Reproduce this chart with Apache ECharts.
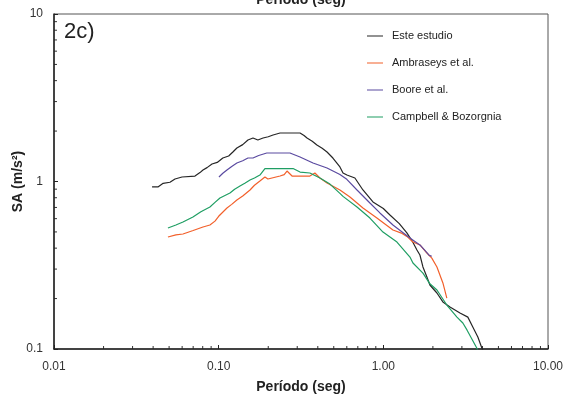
<!DOCTYPE html>
<html>
<head>
<meta charset="utf-8">
<script src="https://cdn.jsdelivr.net/npm/echarts@6/dist/echarts.min.js"></script>
<style>
  html, body { margin: 0; padding: 0; background: #fff; }
  #chart { width: 565px; height: 403px; }
</style>
</head>
<body>
<div id="chart"></div>
<script>
// Spectral acceleration SA (m/s²) versus period (s), log-log
const seriesNames = ['Este estudio', 'Ambraseys et al.', 'Boore et al.', 'Campbell & Bozorgnia'];
const seriesColors = ['#262626', '#f2602b', '#5a4aa0', '#1f9e63'];

const esteT  = [0.0394, 0.043, 0.046, 0.0506, 0.0543, 0.0599, 0.0718, 0.077, 0.0803, 0.085, 0.0911, 0.098, 0.106, 0.115, 0.122, 0.129, 0.140, 0.1506, 0.1616, 0.173, 0.186, 0.200, 0.214, 0.236, 0.312, 0.330, 0.344, 0.370, 0.395, 0.425, 0.455, 0.494, 0.545, 0.569, 0.601, 0.672, 0.752, 0.865, 1.00, 1.097, 1.25, 1.39, 1.50, 1.60, 1.668, 1.74, 1.839, 1.918, 2.116, 2.30, 2.54, 2.92, 3.26, 3.50, 3.75, 3.97, 4.03];
const esteSA = [0.93, 0.93, 0.975, 0.99, 1.035, 1.064, 1.078, 1.13, 1.171, 1.21, 1.272, 1.30, 1.381, 1.42, 1.50, 1.585, 1.66, 1.769, 1.818, 1.769, 1.818, 1.85, 1.895, 1.948, 1.948, 1.88, 1.818, 1.74, 1.652, 1.58, 1.50, 1.381, 1.221, 1.124, 1.093, 1.049, 0.89, 0.755, 0.69, 0.631, 0.56, 0.493, 0.44, 0.39, 0.364, 0.309, 0.269, 0.241, 0.216, 0.191, 0.178, 0.164, 0.155, 0.135, 0.118, 0.101, 0.098];

const ambT  = [0.0492, 0.055, 0.0607, 0.070, 0.0803, 0.0885, 0.095, 0.100, 0.1123, 0.120, 0.129, 0.140, 0.155, 0.165, 0.178, 0.191, 0.196, 0.199, 0.236, 0.250, 0.260, 0.279, 0.358, 0.384, 0.412, 0.455, 0.545, 0.627, 0.752, 0.914, 1.144, 1.30, 1.39, 1.513, 1.668, 1.839, 1.97, 2.116, 2.30, 2.43];
const ambSA = [0.466, 0.48, 0.486, 0.51, 0.535, 0.55, 0.58, 0.62, 0.695, 0.73, 0.775, 0.82, 0.89, 0.95, 1.007, 1.064, 1.064, 1.035, 1.078, 1.10, 1.155, 1.078, 1.078, 1.124, 1.049, 0.979, 0.89, 0.808, 0.695, 0.605, 0.513, 0.49, 0.47, 0.435, 0.418, 0.374, 0.349, 0.309, 0.248, 0.2015];

const booreT  = [0.1004, 0.106, 0.1123, 0.120, 0.129, 0.140, 0.1506, 0.1616, 0.175, 0.196, 0.271, 0.312, 0.374, 0.455, 0.545, 0.600, 0.692, 0.829, 0.953, 1.144, 1.451, 1.668, 1.80, 1.90, 1.97];
const booreSA = [1.064, 1.12, 1.171, 1.23, 1.289, 1.33, 1.381, 1.381, 1.43, 1.48, 1.48, 1.401, 1.289, 1.204, 1.10, 1.03, 0.89, 0.744, 0.649, 0.55, 0.46, 0.418, 0.385, 0.362, 0.358];

const campT  = [0.0492, 0.055, 0.0607, 0.0698, 0.078, 0.0885, 0.095, 0.1018, 0.1171, 0.125, 0.1347, 0.145, 0.155, 0.165, 0.178, 0.191, 0.283, 0.312, 0.358, 0.412, 0.474, 0.545, 0.569, 0.692, 0.829, 0.995, 1.21, 1.451, 1.513, 1.74, 1.918, 2.116, 2.43, 2.80, 3.04, 3.22, 3.70, 3.80];
const campSA = [0.528, 0.55, 0.573, 0.614, 0.66, 0.704, 0.75, 0.797, 0.854, 0.90, 0.94, 0.98, 1.02, 1.05, 1.093, 1.195, 1.195, 1.139, 1.124, 1.049, 0.965, 0.85, 0.815, 0.704, 0.605, 0.499, 0.435, 0.354, 0.326, 0.284, 0.245, 0.225, 0.183, 0.155, 0.143, 0.130, 0.101, 0.095];

const xTickValues = [0.01, 0.1, 1, 10];
const xTickLabels = ['0.01', '0.10', '1.00', '10.00'];
const yTickValues = [0.1, 1, 10];
const yTickLabels = ['0.1', '1', '10'];

const xTitle = 'Período (seg)';
const yTitle = 'SA (m/s²)';
const panelTag = '2c)';

const FONT = 'Arial, "Liberation Sans", sans-serif';

function pairs(t, v) { return t.map((x, i) => [x, v[i]]); }
function labelFor(values, labels, v) {
  let best = 0;
  values.forEach((tv, i) => {
    if (Math.abs(Math.log10(tv) - Math.log10(v)) < Math.abs(Math.log10(values[best]) - Math.log10(v))) best = i;
  });
  return labels[best];
}

const seriesData = [pairs(esteT, esteSA), pairs(ambT, ambSA), pairs(booreT, booreSA), pairs(campT, campSA)];

const chart = echarts.init(document.getElementById('chart'), null, { renderer: 'canvas' });

const option = {
  animation: false,
  backgroundColor: '#fff',
  grid: {
    left: 54, right: 17, top: 14, bottom: 54,
    outerBoundsMode: 'none', containLabel: false,
    show: true, borderColor: '#555', borderWidth: 1, backgroundColor: 'transparent'
  },
  legend: {
    orient: 'vertical',
    left: 362, top: 24,
    itemWidth: 20, itemHeight: 14, itemGap: 13,
    icon: 'path://M0,6.4 L16,6.4 L16,7.6 L0,7.6 Z M0,0 L0.01,0 L0.01,0.01 Z M20,14 L19.99,14 L19.99,13.99 Z',
    itemStyle: { borderWidth: 0 },
    textStyle: { fontFamily: FONT, fontSize: 11, color: '#222' },
    data: seriesNames
  },
  xAxis: {
    type: 'log', logBase: 10, min: 0.01, max: 10, splitNumber: 3,
    name: xTitle, nameLocation: 'middle', nameGap: 31,
    nameTextStyle: { fontFamily: FONT, fontSize: 14, fontWeight: 'bold', color: '#222' },
    axisLine: { lineStyle: { color: '#222', width: 1.5 } },
    axisTick: { inside: true, length: 4, lineStyle: { color: '#222' } },
    axisLabel: { fontFamily: FONT, fontSize: 12, color: '#333', margin: 12,
      formatter: v => labelFor(xTickValues, xTickLabels, v) },
    splitLine: { show: false }
  },
  yAxis: {
    type: 'log', logBase: 10, min: 0.1, max: 10, splitNumber: 2,
    name: yTitle, nameLocation: 'middle', nameGap: 29, nameMoveOverlap: false,
    nameTextStyle: { fontFamily: FONT, fontSize: 14, fontWeight: 'bold', color: '#222' },
    axisLine: { lineStyle: { color: '#222', width: 1.5 } },
    axisTick: { inside: true, length: 4, lineStyle: { color: '#222' } },
    axisLabel: { fontFamily: FONT, fontSize: 12, color: '#333', margin: 11,
      formatter: v => labelFor(yTickValues, yTickLabels, v) },
    splitLine: { show: false }
  },
  series: seriesNames.map((name, i) => ({
    name: name,
    type: 'line',
    data: seriesData[i],
    symbol: 'none',
    showSymbol: false,
    clip: true,
    lineStyle: { color: seriesColors[i], width: 1.2 },
    itemStyle: { color: seriesColors[i] }
  }))
};

chart.setOption(option);

// Minor ticks at 2..9 of every decade, placed through the axis scales
const graphics = [];
const x0 = chart.convertToPixel({ xAxisIndex: 0 }, 0.01);
const yBottom = chart.convertToPixel({ yAxisIndex: 0 }, 0.1);
const xRight = chart.convertToPixel({ xAxisIndex: 0 }, 10);
[0.01, 0.1, 1].forEach(dec => {
  for (let m = 2; m <= 9; m++) {
    const px = chart.convertToPixel({ xAxisIndex: 0 }, dec * m);
    graphics.push({ type: 'line', silent: true,
      shape: { x1: px, y1: yBottom, x2: px, y2: yBottom - 3 },
      style: { stroke: '#333', lineWidth: 1 } });
  }
});
[0.1, 1].forEach(dec => {
  for (let m = 2; m <= 9; m++) {
    const py = chart.convertToPixel({ yAxisIndex: 0 }, dec * m);
    graphics.push({ type: 'line', silent: true,
      shape: { x1: x0, y1: py, x2: x0 + 3, y2: py },
      style: { stroke: '#333', lineWidth: 1 } });
  }
});
// Panel tag and the repeated axis title along the top edge
graphics.push({ type: 'text', silent: true, left: 64, top: 21,
  style: { text: panelTag, font: '22px ' + FONT, fill: '#222' } });
graphics.push({ type: 'text', silent: true,
  x: (x0 + xRight) / 2, y: -7,
  style: { text: xTitle, font: 'bold 14px ' + FONT, fill: '#222', textAlign: 'center', textVerticalAlign: 'top' } });

chart.setOption({ graphic: graphics });
</script>
</body>
</html>
